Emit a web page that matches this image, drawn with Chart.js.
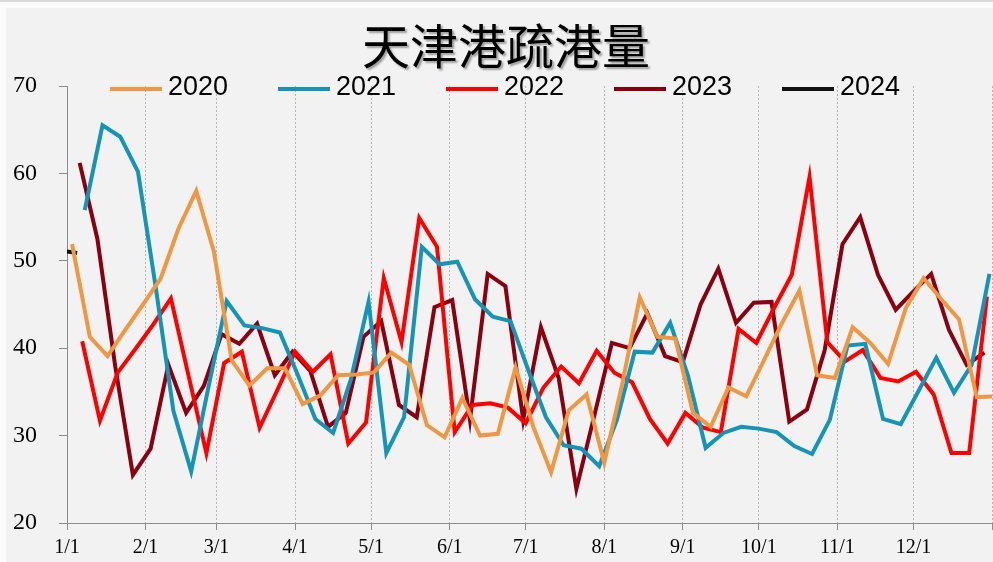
<!DOCTYPE html>
<html>
<head>
<meta charset="utf-8">
<script src="https://cdn.jsdelivr.net/npm/chart.js@4.4.0/dist/chart.umd.min.js"></script>
<style>
  html, body { margin: 0; padding: 0; background: #fff; }
  #wrap { width: 993px; height: 562px; }
</style>
</head>
<body>
<div id="wrap"><canvas id="myChart" width="993" height="562"></canvas></div>
<script>
// chart text and axis
const chartTitle = "天津港疏港量";
const monthDays = [0, 31, 59, 90, 120, 151, 181, 212, 243, 273, 304, 334, 365];
const monthLabels = ["1/1", "2/1", "3/1", "4/1", "5/1", "6/1", "7/1", "8/1", "9/1", "10/1", "11/1", "12/1", ""];

// weekly series, first week's day-of-year for each year
const years = ["2020", "2021", "2022", "2023", "2024"];
const firstDay = [2, 7, 6, 5, -3];

const v2020 = [
  51.9, 41.3, 39.1, 42.1, 45.0, 48.0, 53.7, 58.0, 51.0, 38.6, 35.7, 37.7, 37.7,
  33.6, 34.6, 36.9, 37.0, 37.2, 39.5, 38.1, 31.2, 29.8, 34.3, 30.0, 30.2, 37.8,
  31.0, 25.8, 32.9, 34.7, 26.9, 35.8, 45.8, 41.3, 41.1, 32.6, 31.0, 35.5, 34.5,
  38.6, 42.8, 46.6, 36.9, 36.6, 42.4, 40.6, 38.2, 44.6, 48.0, 45.6, 43.3, 34.4, 34.5,
];
const v2021 = [
  55.8, 65.5, 64.2, 60.2, 47.0, 32.8, 25.9, 35.8, 45.4, 42.6, 42.3, 41.8, 37.0,
  31.9, 30.3, 36.4, 45.3, 28.0, 32.1, 51.6, 49.6, 49.9, 45.6, 43.6, 43.1, 37.5,
  32.1, 28.9, 28.5, 26.5, 31.8, 39.6, 39.5, 42.9, 36.9, 28.6, 30.3, 31.0, 30.8,
  30.4, 28.8, 27.9, 31.8, 40.3, 40.5, 31.9, 31.3, 35.1, 38.9, 34.9, 38.1, 48.5,
];
const v2022 = [
  40.8, 31.7, 37.2, 39.9, 42.7, 45.7, 36.8, 28.0, 38.3, 39.6, 30.9, 35.2, 39.6,
  37.3, 39.3, 29.1, 31.5, 48.0, 40.7, 54.9, 51.6, 30.4, 33.5, 33.7, 33.2, 31.4,
  35.5, 37.9, 36.0, 39.7, 37.2, 36.1, 31.9, 29.1, 32.6, 30.9, 30.4, 42.2, 40.6,
  44.6, 48.4, 59.6, 40.7, 38.5, 39.8, 36.6, 36.2, 37.3, 34.7, 28.0, 28.0, 45.9,
];
const v2023 = [
  61.2, 52.5, 38.0, 25.5, 28.5, 38.1, 32.6, 35.7, 41.6, 40.5, 42.8, 36.9, 39.6,
  37.4, 31.0, 32.6, 41.3, 43.1, 33.5, 32.1, 44.7, 45.5, 31.8, 48.5, 47.1, 31.8,
  42.4, 36.6, 23.9, 32.2, 40.6, 40.0, 44.0, 39.1, 38.4, 45.0, 49.1, 42.9, 45.2,
  45.3, 31.6, 33.0, 39.8, 51.9, 55.0, 48.4, 44.4, 46.5, 48.5, 42.1, 38.1, 39.5,
];
const v2024 = [51.2, 50.9];

const seriesValues = [v2020, v2021, v2022, v2023, v2024];
const colors = ["#ef9743", "#1494b6", "#ff0000", "#8b0010", "#111111"];

const datasets = years.map((year, k) => ({
  label: year,
  data: seriesValues[k].map((v, i) => ({ x: firstDay[k] + 7 * i, y: v })),
  borderColor: colors[k],
  backgroundColor: colors[k],
  borderWidth: 4,
  pointRadius: 0,
  tension: 0,
  fill: false,
}));

// background frame, title and legend
const decor = {
  id: "decor",
  beforeDraw(chart) {
    const c = chart.ctx;
    c.save();
    c.fillStyle = "#fbfbfb";
    c.fillRect(0, 0, chart.width, chart.height);
    c.fillStyle = "#f2f2f2";
    c.fillRect(6, 8, chart.width - 6, chart.height - 8);
    c.fillStyle = "#d9d9d9";
    c.fillRect(0, 0, chart.width, 2);
    c.restore();
  },
  afterDraw(chart) {
    const c = chart.ctx;
    c.save();
    c.font = "400 48px 'Noto Sans CJK SC'";
    c.textAlign = "center";
    c.textBaseline = "middle";
    c.shadowColor = "rgba(0,0,0,0.35)";
    c.shadowOffsetX = 2;
    c.shadowOffsetY = 2;
    c.shadowBlur = 2;
    c.fillStyle = "#000";
    c.fillText(chartTitle, 506, 46);
    c.restore();

    c.save();
    c.font = "27px 'Liberation Sans'";
    c.textAlign = "left";
    c.textBaseline = "middle";
    chart.data.datasets.forEach((ds, i) => {
      const x0 = 110 + 168 * i;
      c.strokeStyle = ds.borderColor;
      c.lineWidth = 4;
      c.beginPath();
      c.moveTo(x0, 89);
      c.lineTo(x0 + 52, 89);
      c.stroke();
      c.fillStyle = "#000";
      c.fillText(ds.label, x0 + 58, 88);
    });
    c.restore();
  },
};

Chart.defaults.font.family = "'Liberation Serif'";
Chart.defaults.color = "#000";

const config = {
  type: "line",
  data: { datasets: datasets },
  options: {
    responsive: false,
    animation: false,
    devicePixelRatio: 1,
    layout: { autoPadding: false, padding: { top: 86, right: 1, bottom: 0, left: 0 } },
    scales: {
      x: {
        type: "linear",
        min: 0,
        max: 365,
        afterBuildTicks: (scale) => {
          scale.ticks = monthDays.map((d) => ({ value: d }));
        },
        afterFit: (scale) => {
          scale.height = 39;
          scale.paddingLeft = 0;
          scale.paddingRight = 0;
        },
        ticks: {
          autoSkip: false,
          maxRotation: 0,
          padding: 6,
          font: { size: 20 },
          callback: (value, index) => monthLabels[index],
        },
        grid: {
          color: (ctx) => (ctx.index === 0 ? "rgba(0,0,0,0)" : "#b4b4b4"),
          lineWidth: 1,
          tickLength: 7,
          tickColor: "#8c8c8c",
          tickBorderDash: [],
        },
        border: { color: "#8c8c8c", width: 1, dash: [2, 2] },
      },
      y: {
        min: 20,
        max: 70,
        afterFit: (scale) => {
          scale.width = 67;
          scale.paddingTop = 0;
          scale.paddingBottom = 0;
        },
        ticks: {
          stepSize: 10,
          padding: 22,
          font: { size: 24 },
        },
        grid: {
          drawOnChartArea: false,
          tickLength: 8,
          tickColor: "#8c8c8c",
        },
        border: { color: "#8c8c8c", width: 1 },
      },
    },
    plugins: {
      legend: { display: false },
      title: { display: false },
      tooltip: { enabled: false },
    },
  },
};

const ctx = document.getElementById("myChart").getContext("2d");
new Chart(ctx, { ...config, plugins: [decor] });
</script>
</body>
</html>
